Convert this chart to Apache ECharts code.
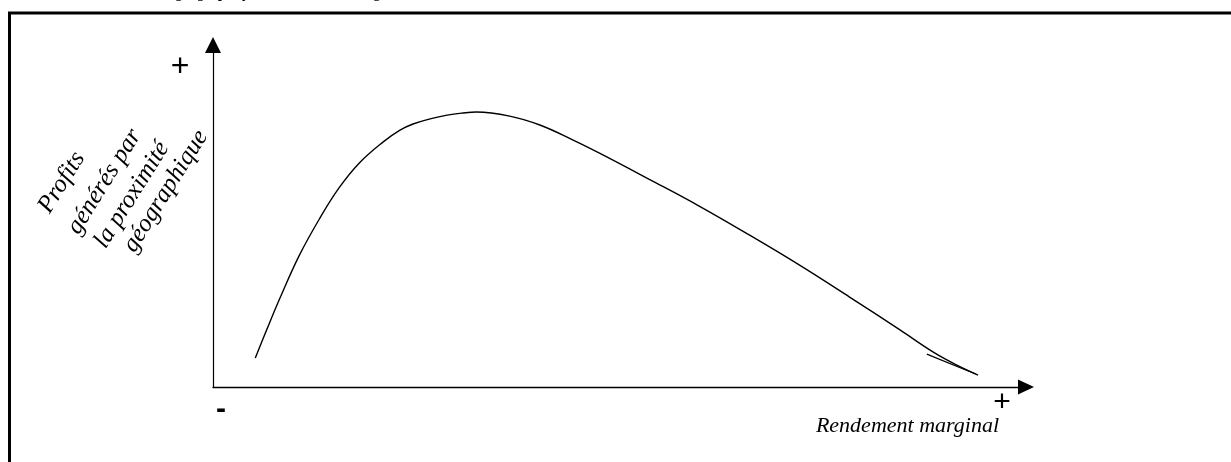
<!DOCTYPE html>
<html>
<head>
<meta charset="utf-8">
<script src="https://cdn.jsdelivr.net/npm/echarts@6.0.0/dist/echarts.min.js"></script>
<style>
  html, body { margin: 0; padding: 0; background: #fff; }
  #main { width: 1231px; height: 462px; }
</style>
</head>
<body>
<div id="main"></div>
<script>
// courbe principale (x = rendement marginal, y = profits), échelle 0-100
var xVals = [5.2, 6.6, 8.2, 10.6, 13.1, 15.5, 18.0, 20.9, 23.0, 24.6, 26.7, 28.8, 30.7, 32.4, 36.5, 40.2, 44.3, 47.6, 53.6, 59.8, 66.0, 72.1, 78.3, 84.5, 88.6, 91.5, 94.1];
var yVals = [8.5, 16.7, 25.8, 38.4, 49.2, 58.2, 65.5, 71.6, 75.1, 76.9, 78.4, 79.5, 80.1, 80.4, 79.2, 76.6, 72.2, 68.3, 60.8, 52.9, 44.4, 35.7, 26.3, 16.7, 10.2, 6.4, 3.5];
// petit trait doublé en fin de courbe
var tailX = [87.8, 93.8];
var tailY = [9.6, 3.8];

var titleText = 'Proximité géographique et rendement marginal';
var xName = 'Rendement marginal';
var yLines = ['Profits', 'générés par', 'la proximité', 'géographique'];

function pairs(xs, ys) {
  return xs.map(function (x, i) { return [x, ys[i]]; });
}

var serif = '"Liberation Serif", "Times New Roman", serif';
var sans = '"Liberation Sans", Arial, sans-serif';

// titre de l'axe vertical : lignes inclinées
var ang = 58 * Math.PI / 180;
var yStarts = [[44, 211], [73, 232], [100, 246], [129, 250]];
var yLabel = yLines.map(function (t, i) {
  return {
    type: 'text', x: yStarts[i][0], y: yStarts[i][1], rotation: ang,
    style: { text: t, font: 'italic 25px ' + serif, fill: '#000', textAlign: 'left', textVerticalAlign: 'middle' }
  };
});

var myChart = echarts.init(document.getElementById('main'));
var option = {
  backgroundColor: '#fff',
  animation: false,
  grid: {
    left: 213,
    right: 205,
    top: 45,
    bottom: 75
  },
  xAxis: {
    type: 'value',
    min: 0,
    max: 100,
    axisLine: {
      show: true,
      symbol: ['none', 'triangle'],
      symbolSize: [15, 16],
      lineStyle: { color: '#000', width: 1.4 }
    },
    axisTick: { show: false },
    axisLabel: { show: false },
    splitLine: { show: false }
  },
  yAxis: {
    type: 'value',
    min: 0,
    max: 100,
    axisLine: {
      show: true,
      symbol: ['none', 'triangle'],
      symbolSize: [16, 16],
      lineStyle: { color: '#000', width: 1.2 }
    },
    axisTick: { show: false },
    axisLabel: { show: false },
    splitLine: { show: false }
  },
  series: [{
    type: 'line',
    data: pairs(xVals, yVals),
    smooth: 0.4,
    showSymbol: false,
    lineStyle: { color: '#000', width: 1.4 }
  }, {
    type: 'line',
    data: pairs(tailX, tailY),
    showSymbol: false,
    lineStyle: { color: '#000', width: 1.2 }
  }],
  graphic: [
    // cadre
    {
      type: 'polyline',
      shape: { points: [[9.5, 480], [9.5, 13], [1240, 13]] },
      style: { stroke: '#000', lineWidth: 3, fill: null }
    },
    // titre (presque entièrement coupé)
    {
      type: 'text', x: 112, y: -6,
      style: { text: titleText, font: 'bold italic 15px ' + serif, fill: '#000', textAlign: 'left', textVerticalAlign: 'middle' }
    },
    { type: 'text', x: 180, y: 67, style: { text: '+', font: '32px ' + sans, fill: '#000', textAlign: 'center', textVerticalAlign: 'middle' } },
    { type: 'text', x: 221, y: 410, style: { text: '-', font: 'bold 30px ' + sans, fill: '#000', textAlign: 'center', textVerticalAlign: 'middle' } },
    { type: 'text', x: 1002, y: 403, style: { text: '+', font: '30px ' + sans, fill: '#000', textAlign: 'center', textVerticalAlign: 'middle' } },
    { type: 'text', x: 999, y: 426, style: { text: xName, font: 'italic 22px ' + serif, fill: '#000', textAlign: 'right', textVerticalAlign: 'middle' } }
  ].concat(yLabel)
};
myChart.setOption(option);
window.addEventListener('resize', function () {
  myChart.resize();
});
</script>
</body>
</html>
